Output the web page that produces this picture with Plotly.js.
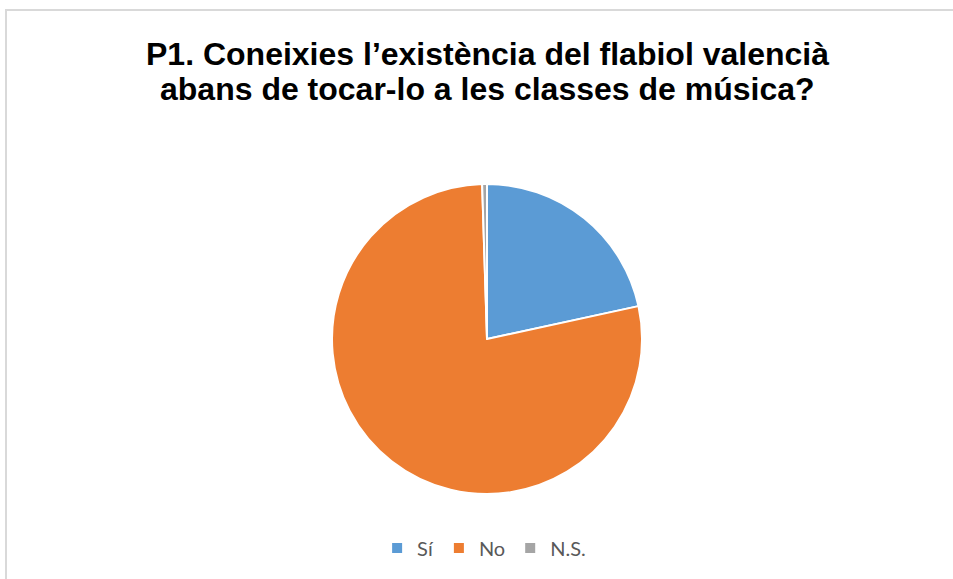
<!DOCTYPE html>
<html>
<head>
<meta charset="utf-8">
<script src="https://cdn.plot.ly/plotly-3.0.1.min.js"></script>
<style>html,body{margin:0;padding:0;background:#fff;}#chart{width:953px;height:579px;}</style>
</head>
<body>
<div id="chart"></div>
<script>
const categories = ["Sí", "No", "N.S."];
const values = [21.6, 77.9, 0.5];
const colors = ["#5B9BD5", "#ED7D31", "#A5A5A5"];
const titleLines = ["P1. Coneixies l’existència del flabiol valencià", "abans de tocar-lo a les classes de música?"];

const W = 953, H = 579;
const trace = {
  type: "pie",
  labels: categories,
  values: values,
  marker: {colors: colors, line: {color: "#ffffff", width: 2}},
  sort: false,
  direction: "clockwise",
  rotation: 0,
  textinfo: "none",
  hoverinfo: "label+percent",
  domain: {x: [332 / W, 642 / W], y: [(H - 494) / H, (H - 184) / H]}
};
const titleFont = {family: "Liberation Sans, Arial, sans-serif", size: 32, color: "#000000"};
const layout = {
  width: W, height: H,
  margin: {l: 0, r: 0, t: 0, b: 0},
  paper_bgcolor: "#ffffff",
  showlegend: true,
  legend: {
    orientation: "h", x: 0.508, xanchor: "center", y: 1 - 548 / H, yanchor: "middle",
    font: {family: "Lato, Open Sans, sans-serif", size: 20, color: "#595959"},
    itemwidth: 30, traceorder: "normal"
  },
  annotations: titleLines.map((t, i) => ({
    text: "<b>" + t + "</b>", xref: "paper", yref: "paper",
    x: 488 / W, xanchor: "center", y: 1 - (54 + 35 * i) / H, yanchor: "middle",
    showarrow: false, font: titleFont
  })),
  shapes: [{
    type: "path", xref: "paper", yref: "paper",
    path: "M " + (6 / W) + " 0 L " + (6 / W) + " " + (1 - 10 / H) + " L 1 " + (1 - 10 / H),
    line: {color: "#D9D9D9", width: 2}
  }]
};
Plotly.newPlot("chart", [trace], layout, {displayModeBar: false, staticPlot: true});
</script>
</body>
</html>
